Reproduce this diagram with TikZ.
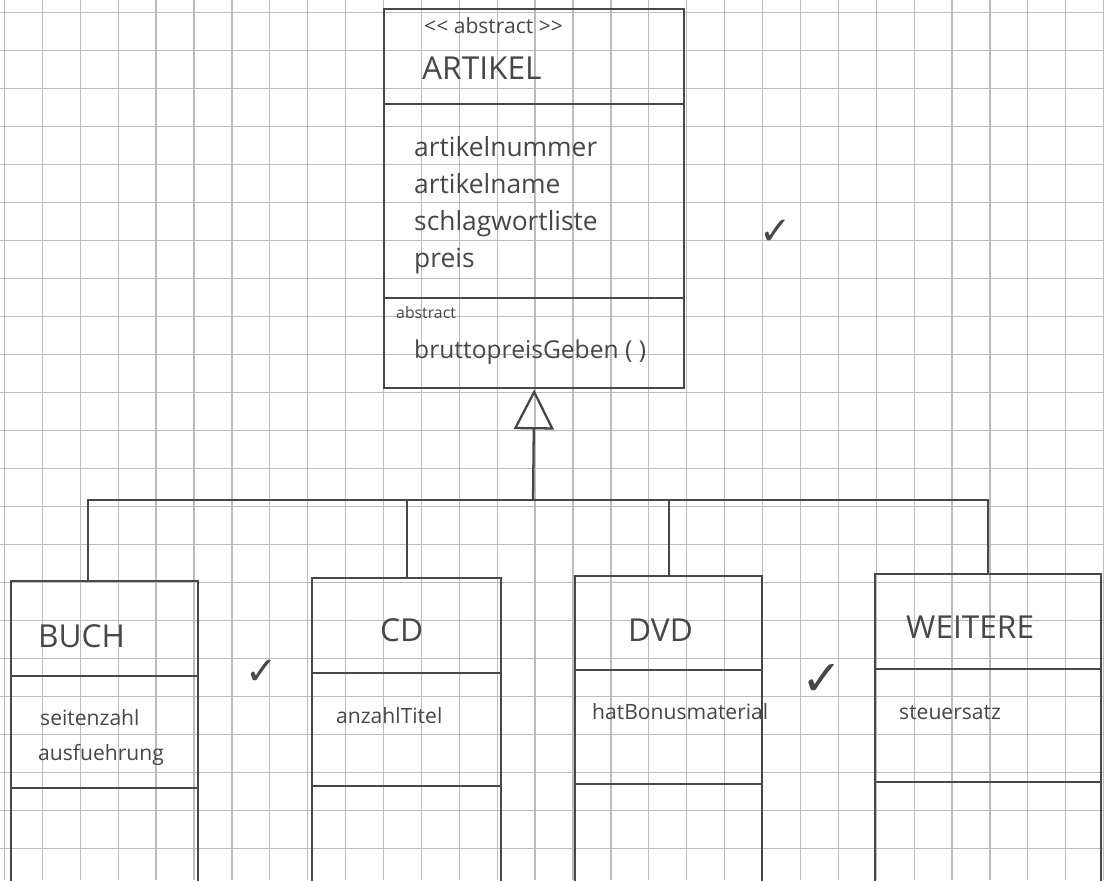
\documentclass[tikz,border=0pt]{standalone}
\usepackage{fontspec}
\setmainfont{Open Sans}
\newfontfamily\symfont{DejaVu Sans}
\usetikzlibrary{arrows.meta,positioning,calc}
\definecolor{ink}{HTML}{474747}
\definecolor{grid}{HTML}{BCBCBC}
\tikzset{
 cls/.style={draw=ink,line width=1.4pt,anchor=north west,inner sep=0pt},
 sep/.style={draw=ink,line width=1.2pt},
 link/.style={draw=ink,line width=1.3pt},
 gridline/.style={draw=grid,line width=0.7pt},
 cname/.style={text=ink,font=\fontsize{18}{20}\selectfont,anchor=base west},
 attr/.style={text=ink,font=\fontsize{15}{18}\selectfont,anchor=base west},
 sattr/.style={text=ink,font=\fontsize{12}{14}\selectfont,anchor=base west},
 chk/.style={text=ink,font=\symfont\fontsize{22}{22}\selectfont}}

\begin{document}
\begin{tikzpicture}[x=0.02cm,y=-0.02cm]
 \useasboundingbox[fill=white] (0,0) rectangle (1104,880);
 % squared paper
 \foreach \i in {0,...,29}
  \draw[gridline] (4.5+37.9*\i,0) -- (4.5+37.9*\i,880);
 \foreach \j in {0,...,23}
  \draw[gridline] (0,12.7+38*\j) -- (1104,12.7+38*\j);

 % abstract base class
 \node[cls,minimum width=6cm,minimum height=7.58cm] (artikel) at (383,8) {};
 \draw[sep] (artikel.west |- 0,104) -- (artikel.east |- 0,104);
 \draw[sep] (artikel.west |- 0,298) -- (artikel.east |- 0,298);
 \node[sattr] (stereo) at (418,33) {<{}< abstract >{}>};
 \node[cname] (aname) at (416,79) {ARTIKEL};
 \node[attr] (a1) at (408,156) {artikelnummer};
 \node[attr] (a2) at (408,193) {artikelname};
 \node[attr] (a3) at (408,230) {schlagwortliste};
 \node[attr] (a4) at (408,267) {preis};
 \node[sattr,font=\fontsize{9}{10}\selectfont] (abs) at (390,318) {abstract};
 \node[attr,font=\fontsize{14}{16}\selectfont] (m1) at (408,358) {bruttopreisGeben ( )};

 % subclasses
 \node[cls,minimum width=3.74cm,minimum height=6.2cm] (buch) at (10,580) {};
 \draw[sep] (buch.west |- 0,676) -- (buch.east |- 0,676);
 \draw[sep] (buch.west |- 0,788) -- (buch.east |- 0,788);
 \node[cname] (bname) at (32,647) {BUCH};
 \node[sattr] (b1) at (34,725) {seitenzahl};
 \node[sattr] (b2) at (32,760) {ausfuehrung};

 \node[cls,minimum width=3.78cm,minimum height=6.26cm] (cd) at (311,577) {};
 \draw[sep] (cd.west |- 0,673) -- (cd.east |- 0,673);
 \draw[sep] (cd.west |- 0,786) -- (cd.east |- 0,786);
 \node[cname] (cname) at (374,641) {CD};
 \node[sattr] (c1) at (330,723) {anzahlTitel};

 \node[cls,minimum width=3.74cm,minimum height=6.3cm] (dvd) at (574,575) {};
 \draw[sep] (dvd.west |- 0,670) -- (dvd.east |- 0,670);
 \draw[sep] (dvd.west |- 0,784) -- (dvd.east |- 0,784);
 \node[cname] (dname) at (622,641) {DVD};
 \node[sattr] (d1) at (586,719) {hatBonusmaterial};

 \node[cls,minimum width=4.52cm,minimum height=6.34cm] (weit) at (874,573) {};
 \draw[sep] (weit.west |- 0,669) -- (weit.east |- 0,669);
 \draw[sep] (weit.west |- 0,782) -- (weit.east |- 0,782);
 \node[cname] (wname) at (900,638) {WEITERE};
 \node[sattr] (w1) at (893,719) {steuersatz};

 % inheritance
 \coordinate (bar) at (533,500);
 \draw[link,-{Triangle[open,length=0.8cm,width=0.8cm]}] (bar) -- (artikel.south);
 \draw[link] ([xshift=-0.34cm]buch.north) |- (bar);
 \draw[link] (cd.north) |- (bar);
 \draw[link] (dvd.north) |- (bar);
 \draw[link] (weit.north) |- (bar);

 % marks
 \node[chk] (ok1) at (776,232) {✓};
 \node[chk] (ok2) at (262,672) {✓};
 \node[chk,font=\symfont\fontsize{28}{28}\selectfont] (ok3) at (822,680) {✓};
\end{tikzpicture}
\end{document}
